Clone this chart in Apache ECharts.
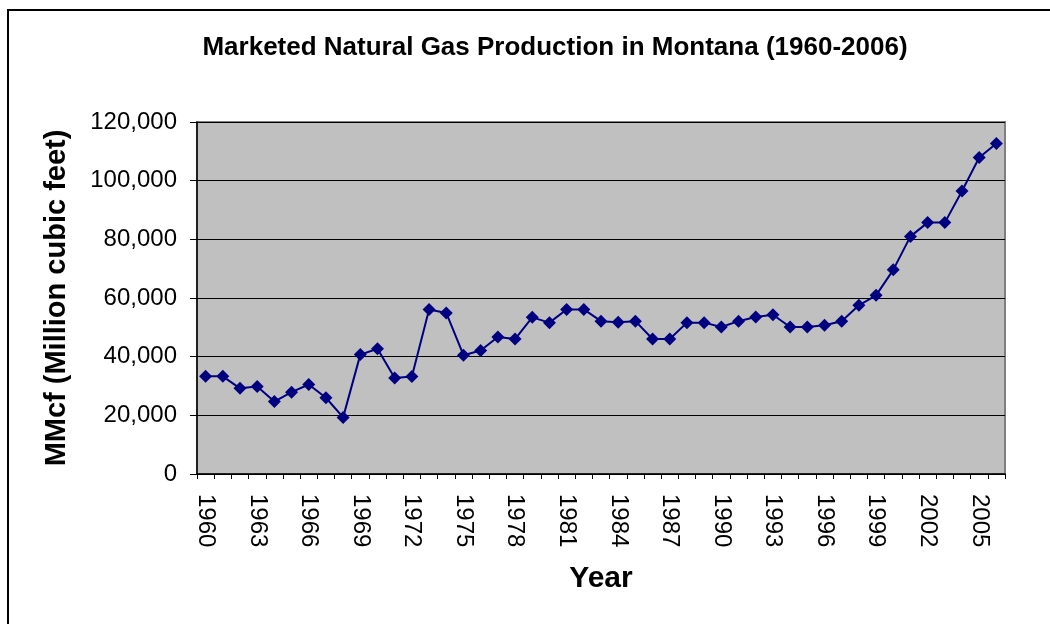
<!DOCTYPE html>
<html>
<head>
<meta charset="utf-8">
<script src="https://cdn.jsdelivr.net/npm/echarts@6/dist/echarts.min.js"></script>
</head>
<body style="margin:0; background:#fff;">
<div id="chart" style="width: 1050px; height: 624px;"></div>
<script>
    // Marketed natural gas production, Montana, MMcf
    var years = [];
    for (var y = 1960; y <= 2006; y++) years.push(String(y));

    var production = [
        33300, 33300, 29200, 29800, 24700, 27900, 30500, 26000, 19300, 40700,
        42700, 32700, 33200, 56100, 54900, 40500, 42100, 46700, 46000, 53400,
        51600, 56100, 56100, 52100, 51700, 52100, 46000, 46000, 51600, 51600,
        50100, 52100, 53500, 54300, 50100, 50100, 50700, 52100, 57500, 60900,
        69600, 81000, 85700, 85700, 96500, 107900, 112700
    ];

    var chartDom = document.getElementById('chart');
    var myChart = echarts.init(chartDom);
    var option;

    option = {
        animation: false,
        title: {
            text: 'Marketed Natural Gas Production in Montana (1960-2006)',
            left: 550,
            top: 30,
            textAlign: 'center',
            textStyle: {
                fontFamily: 'Liberation Sans, Arial, sans-serif',
                fontSize: 26,
                fontWeight: 'bold',
                color: '#000'
            }
        },
        graphic: [{
            type: 'rect',
            shape: {x: 8, y: 10, width: 1100, height: 700},
            style: {fill: 'none', stroke: '#000', lineWidth: 2},
            silent: true,
            z: -1
        }],
        grid: {
            left: 197,
            right: 45,
            top: 122,
            bottom: 150,
            show: true,
            backgroundColor: '#c0c0c0',
            borderColor: '#808080',
            borderWidth: 2
        },
        xAxis: {
            type: 'category',
            data: years,
            boundaryGap: true,
            name: 'Year',
            nameLocation: 'middle',
            nameGap: 90,
            nameTextStyle: {
                fontFamily: 'Liberation Sans, Arial, sans-serif',
                fontSize: 30,
                fontWeight: 'bold',
                color: '#000'
            },
            axisLine: {lineStyle: {color: '#000', width: 1.5}},
            axisTick: {show: true, interval: 0, length: 5, lineStyle: {color: '#000'}},
            axisLabel: {
                interval: 2,
                rotate: -90,
                margin: 20,
                fontFamily: 'Liberation Sans, Arial, sans-serif',
                fontSize: 24,
                color: '#000'
            },
            splitLine: {show: false}
        },
        yAxis: {
            type: 'value',
            min: 0,
            max: 120000,
            interval: 20000,
            name: 'MMcf (Million cubic feet)',
            nameLocation: 'middle',
            nameGap: 126,
            nameTextStyle: {
                fontFamily: 'Liberation Sans, Arial, sans-serif',
                fontSize: 29,
                fontWeight: 'bold',
                color: '#000'
            },
            axisLine: {show: true, lineStyle: {color: '#000', width: 1.5}},
            axisTick: {show: true, length: 7, lineStyle: {color: '#000'}},
            axisLabel: {
                margin: 20,
                fontFamily: 'Liberation Sans, Arial, sans-serif',
                fontSize: 24,
                color: '#000',
                formatter: function (v) {
                    return v.toLocaleString('en-US');
                }
            },
            splitLine: {show: true, lineStyle: {color: '#000', width: 1}}
        },
        series: [{
            name: 'Production',
            type: 'line',
            data: production,
            symbol: 'diamond',
            symbolSize: 13,
            showAllSymbol: true,
            lineStyle: {color: '#000080', width: 2},
            itemStyle: {color: '#000080'}
        }]
    };

    option && myChart.setOption(option);
</script>
</body>
</html>
